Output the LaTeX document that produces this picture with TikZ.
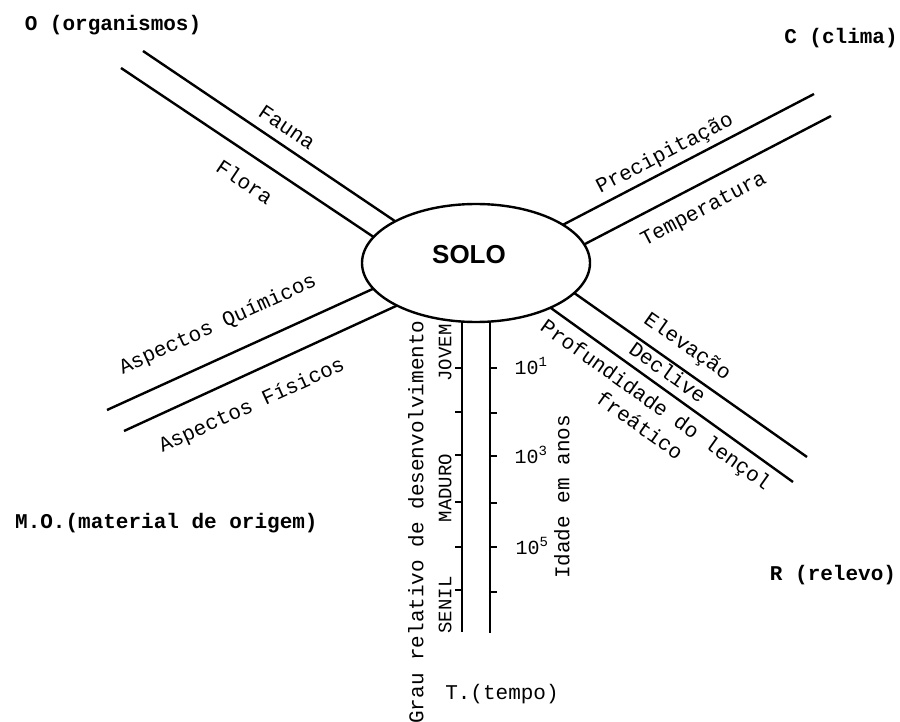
\documentclass[tikz,border=0pt]{standalone}
\usepackage{fontspec}
\usetikzlibrary{shapes.geometric}
\setmainfont{Liberation Mono}
\newfontfamily\solofont{Liberation Sans}
\begin{document}
\begin{tikzpicture}[x=1pt,y=-1pt,
  bar/.style={line width=2.4pt},
  tickmark/.style={line width=1.8pt},
  corner/.style={font=\fontsize{21}{24}\selectfont\bfseries, inner sep=0pt},
  factor/.style={font=\fontsize{21}{24}\selectfont, inner sep=0pt},
  stage/.style={font=\fontsize{19}{22}\selectfont, inner sep=0pt, rotate=90},
  power/.style={font=\fontsize{20}{22}\selectfont, inner sep=0pt},
  core/.style={ellipse, draw, line width=2.4pt, fill=white,
    minimum width=228pt, minimum height=118pt, inner sep=0pt}
]
\useasboundingbox (0,0) rectangle (900,722);

% outer and inner ends of the paired bars
\coordinate (o1a) at (143,51);  \coordinate (o1b) at (420,238);
\coordinate (o2a) at (121,68);  \coordinate (o2b) at (411,262);
\coordinate (c1a) at (814,94);  \coordinate (c1b) at (528,243);
\coordinate (c2a) at (831,116); \coordinate (c2b) at (560,257);
\coordinate (m1a) at (107,410); \coordinate (m1b) at (410,272);
\coordinate (m2a) at (124,431); \coordinate (m2b) at (420,295);
\coordinate (r1a) at (807,457); \coordinate (r1b) at (560,283);
\coordinate (r2a) at (793,482); \coordinate (r2b) at (530,293);
\coordinate (t1a) at (462,632); \coordinate (t1b) at (462,300);
\coordinate (t2a) at (490,633); \coordinate (t2b) at (490,300);

\foreach \p in {o1,o2,c1,c2,m1,m2,r1,r2,t1,t2}
  \draw[bar] (\p a) -- (\p b);

% the soil in the middle, covering the inner ends of the bars
\node[core] (solo) at (476,263) {};
\node[font=\solofont\fontsize{26}{28}\selectfont\bfseries, inner sep=0pt] (solotxt) at (469,255) {SOLO};

% scale marks on the time bars
\foreach \y in {368,412,455,502,547,590}
  \draw[tickmark] (462,\y) -- (455,\y);
\foreach \y in {368,413,456,503,547,592}
  \draw[tickmark] (490,\y) -- (497,\y);

% factor names
\node[corner] (org) at (113,25) {O (organismos)};
\node[corner] (cli) at (841,38) {C (clima)};
\node[corner, anchor=west] (mat) at (15,523) {M.O.(material de origem)};
\node[corner] (rel) at (833,575) {R (relevo)};
\node[factor] (tem) at (502,694) {T.(tempo)};

% labels along the bars
\node[factor, rotate=-34] (fauna) at (287,127) {Fauna};
\node[factor, rotate=-34] (flora) at (245,182) {Flora};
\node[factor, rotate=27.6] (prec) at (665,154) {Precipitação};
\node[factor, rotate=27.6] (temp) at (704,210) {Temperatura};
\node[factor, rotate=24.5] (quim) at (218,325) {Aspectos Químicos};
\node[factor, rotate=24.5] (fis) at (252,406) {Aspectos Físicos};
\node[factor, rotate=-35.2] (elev) at (687,347) {Elevação};
\node[factor, rotate=-35.2] (decl) at (668,372) {Declive};
\node[factor, rotate=-35.5] (prof) at (655,406) {Profundidade do lençol};
\node[factor, rotate=-35.5] (frea) at (640,425) {freático};

% time axis labels
\node[factor, rotate=90] (grau) at (416,522) {Grau relativo de desenvolvimento};
\node[factor, rotate=90] (idade) at (562,497) {Idade em anos};
\node[stage] (jovem) at (445,353) {JOVEM};
\node[stage] (maduro) at (445,488) {MADURO};
\node[stage] (senil) at (445,605) {SENIL};
\node[power] (p1) at (531,366) {10\textsuperscript{1}};
\node[power] (p3) at (531,455) {10\textsuperscript{3}};
\node[power] (p5) at (532,546) {10\textsuperscript{5}};
\end{tikzpicture}
\end{document}
